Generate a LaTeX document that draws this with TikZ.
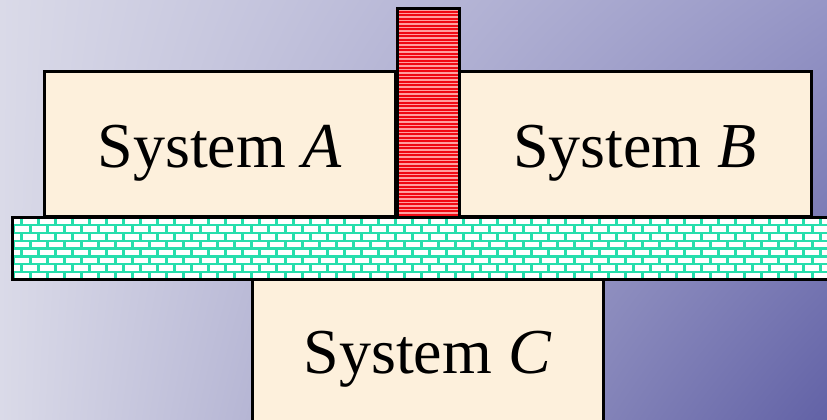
\documentclass[tikz,border=0pt]{standalone}
\usepackage{fontspec}
\setmainfont{Liberation Serif}
\usepackage{tikz}
\usetikzlibrary{positioning, shadings}
\definecolor{bgleft}{RGB}{218,218,232}
\definecolor{bgtopright}{RGB}{150,150,198}
\definecolor{bgbotright}{RGB}{98,98,166}
\definecolor{sysfill}{RGB}{253,240,220}
\definecolor{mortar}{RGB}{38,222,172}
\definecolor{barred}{RGB}{240,10,20}
\definecolor{barpink}{RGB}{255,160,160}

\begin{document}
\begin{tikzpicture}[
  x=1pt, y=-1pt,
  sysbox/.style={draw=black, line width=3pt, fill=sysfill, rectangle, inner sep=0pt},
  syslabel/.style={font=\fontsize{64}{70}\selectfont, inner sep=0pt},
  wallbox/.style={draw=black, line width=3pt, rectangle, inner sep=0pt}
]
\useasboundingbox (0,0) rectangle (827,420);
\clip (0,0) rectangle (827,420);
% ---- background ----
\shade[upper left=bgleft, lower left=bgleft, upper right=bgtopright, lower right=bgbotright]
  (0,0) rectangle (827,420);

% ---- diathermic bar between A and B ----
\node[wallbox, fill=barred, minimum width=62pt, minimum height=208pt] (bar) at (428,113) {};
\begin{scope}
  \clip (bar.south west) rectangle (bar.north east);
  \foreach \yy in {10,13.5,...,218}
    \draw[barpink, line width=1.3pt] (390,\yy) -- (470,\yy);
\end{scope}
\node[wallbox, minimum width=62pt, minimum height=208pt] at (bar) {};

% ---- systems A and B ----
\node[sysbox, minimum width=351pt, minimum height=144pt] (sysA) at (219.5,144) {};
\node[sysbox, minimum width=352pt, minimum height=144pt] (sysB) at (635,144) {};
\node[syslabel] (labA) at (219.5,153) {System \textit{A}};
\node[syslabel] (labB) at (635,153) {System \textit{B}};

% ---- brick wall (slab) ----
\node[wallbox, fill=mortar, minimum width=830pt, minimum height=62pt] (slab) at (427,248) {};
\begin{scope}
  \clip (slab.south west) rectangle (slab.north east);
  \foreach \r in {0,...,8} {
    \pgfmathsetmacro{\off}{mod(\r,2)*8.5}
    \foreach \c in {0,...,52}
      \fill[white] (6+\off+\c*17,218.5+\r*7.8) rectangle ++(14,5.4);
  }
\end{scope}
\node[wallbox, minimum width=830pt, minimum height=62pt] at (slab) {};

% ---- system C ----
\node[sysbox, minimum width=351pt, minimum height=161pt] (sysC) at (427.5,359.5) {};
\node[syslabel] (labC) at (427.5,359) {System \textit{C}};
\end{tikzpicture}
\end{document}
